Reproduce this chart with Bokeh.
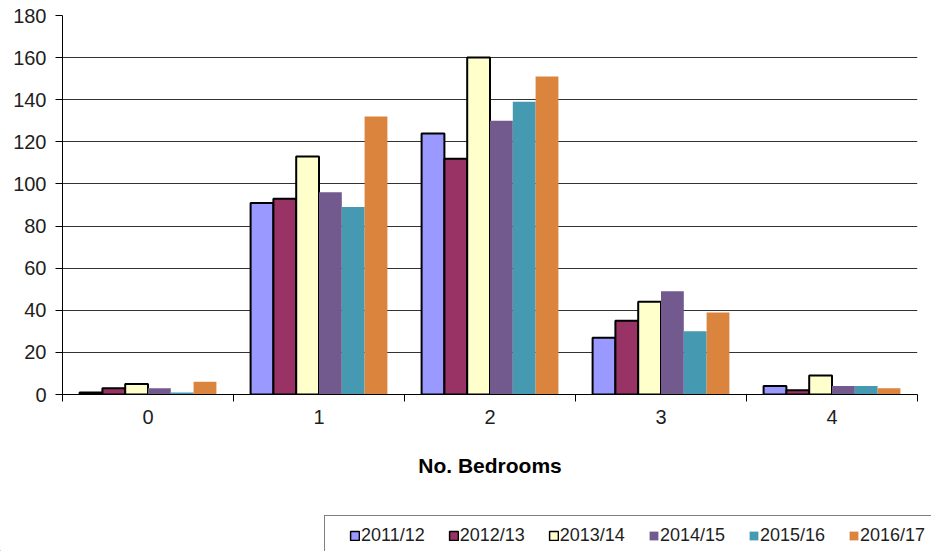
from bokeh.plotting import figure
from bokeh.layouts import column
from bokeh.models import ColumnDataSource, FixedTicker, Legend, LegendItem, Range1d
from bokeh.transform import dodge
from bokeh.embed import file_html
from bokeh.resources import INLINE

# ---- data ----
categories = ["0", "1", "2", "3", "4"]
series_names = ["2011/12", "2012/13", "2013/14", "2014/15", "2015/16", "2016/17"]
v_2011_12 = [1, 91, 124, 27, 4]
v_2012_13 = [3, 93, 112, 35, 2]
v_2013_14 = [5, 113, 160, 44, 9]
v_2014_15 = [3, 96, 130, 49, 4]
v_2015_16 = [1, 89, 139, 30, 4]
v_2016_17 = [6, 132, 151, 39, 3]
y_ticks = [0, 20, 40, 60, 80, 100, 120, 140, 160, 180]
x_title = "No. Bedrooms"

series_values = [v_2011_12, v_2012_13, v_2013_14, v_2014_15, v_2015_16, v_2016_17]
fill_colors = ["#9999FF", "#993366", "#FFFFCC", "#725A8F", "#4599B0", "#DB843D"]
bordered = [True, True, True, False, False, False]

positions = [i + 0.5 for i in range(len(categories))]
src = {"pos": positions}
for name, vals in zip(series_names, series_values):
    src[name] = vals
source = ColumnDataSource(src)

FONT = "Liberation Sans"
TXT = "#1e1e1e"

p = figure(width=931, height=514, output_backend="svg", toolbar_location=None,
           x_range=Range1d(0, len(categories)), y_range=Range1d(0, 180),
           min_border_left=62, min_border_right=14, min_border_top=15,
           min_border_bottom=120)
p.outline_line_color = None
p.background_fill_color = "white"
p.border_fill_color = "white"
p.frame_align = False

n = len(series_names)
group = 0.8
bw = group / n
for i, name in enumerate(series_names):
    off = (i - (n - 1) / 2) * bw
    p.vbar(x=dodge("pos", off, range=p.x_range), top=name, width=bw, bottom=0,
           source=source, fill_color=fill_colors[i],
           line_color="black" if bordered[i] else None,
           line_width=2 if bordered[i] else 0)

# axes
xa = p.xaxis[0]
xa.ticker = FixedTicker(ticks=positions, minor_ticks=[i for i in range(len(categories) + 1)])
xa.major_label_overrides = {pos: cat for pos, cat in zip(positions, categories)}
xa.major_tick_in = 0
xa.major_tick_out = 0
xa.minor_tick_in = 0
xa.minor_tick_out = 7
xa.minor_tick_line_color = "black"
xa.axis_line_color = "black"
xa.major_label_text_font = FONT
xa.major_label_text_font_size = "20px"
xa.major_label_text_color = TXT
xa.major_label_standoff = 8
xa.axis_label = x_title
xa.axis_label_text_font = FONT
xa.axis_label_text_font_size = "21px"
xa.axis_label_text_font_style = "bold"
xa.axis_label_text_color = "black"
xa.axis_label_standoff = 27

ya = p.yaxis[0]
ya.ticker = FixedTicker(ticks=y_ticks)
ya.major_tick_in = 0
ya.major_tick_out = 7
ya.minor_tick_line_color = None
ya.axis_line_color = "black"
ya.major_tick_line_color = "black"
ya.major_label_text_font = FONT
ya.major_label_text_font_size = "20px"
ya.major_label_text_color = TXT
ya.major_label_standoff = 9

p.xgrid.visible = False
p.ygrid.ticker = FixedTicker(ticks=y_ticks)
p.ygrid.grid_line_color = "#333333"
p.ygrid.grid_line_width = 1

# ---- legend strip (separate figure below) ----
q = figure(width=931, height=37, output_backend="svg", toolbar_location=None,
           x_range=Range1d(0, 1), y_range=Range1d(0, 1),
           x_axis_type=None, y_axis_type=None,
           min_border_left=0, min_border_right=0, min_border_top=0, min_border_bottom=0)
q.outline_line_color = None
q.xgrid.visible = False
q.ygrid.visible = False
q.background_fill_color = "white"
q.border_fill_color = "white"
q.frame_align = False

items = []
for i, name in enumerate(series_names):
    r = q.vbar(x=[-10], top=[0], width=0.1, fill_color=fill_colors[i],
               line_color="black" if bordered[i] else None,
               line_width=1.5 if bordered[i] else 0)
    items.append(LegendItem(label=name, renderers=[r]))

legend = Legend(items=items, orientation="horizontal", location=(324, -5),
                title=" ", title_location="left", title_standoff=14,
                title_text_font_size="1px", margin=0,
                padding=9, spacing=23, glyph_width=11, glyph_height=11,
                label_standoff=1, label_text_font=FONT, label_text_font_size="18px",
                label_text_color=TXT, border_line_color="black", border_line_width=1,
                background_fill_color="white", background_fill_alpha=1.0)
q.add_layout(legend, "center")

open("out.html", "w").write(file_html(column(p, q, spacing=0), INLINE))
